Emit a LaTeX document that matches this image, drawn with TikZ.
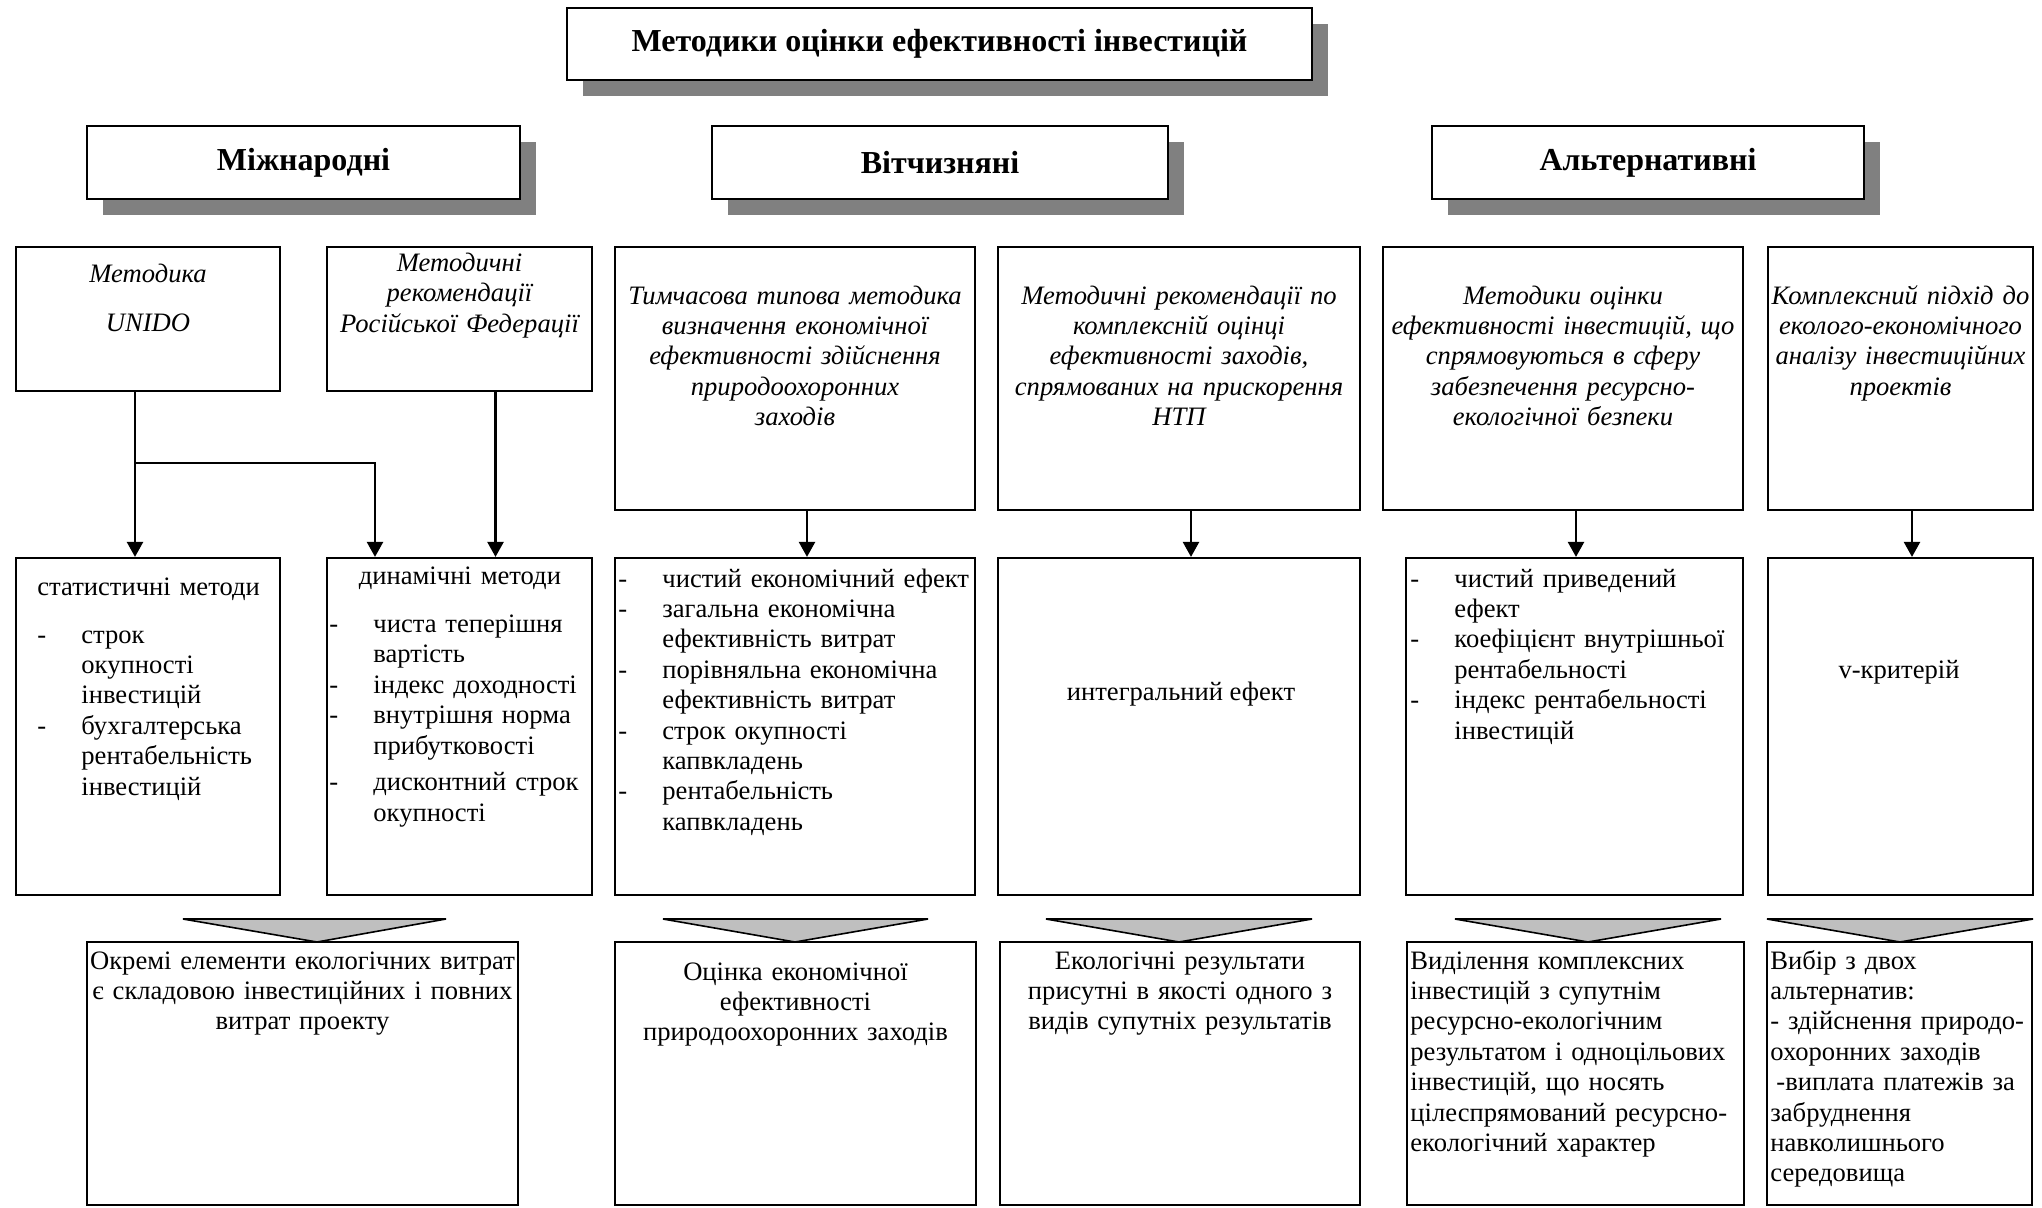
\documentclass[tikz,border=0pt]{standalone}
\usepackage{fontspec}
\setmainfont{Liberation Serif}
\usetikzlibrary{
  arrows.meta,%
  % boxes sized from two corners
  fit,%
  % grey offset shadow of the headings
  shadows
}
\tikzset{>={Triangle[width=8pt,length=7.5pt]}}
\definecolor{shadowgray}{gray}{0.5}
\definecolor{tipgray}{gray}{0.75}
\newlength{\dashw}\setlength{\dashw}{22pt}
\newcommand{\dl}{\makebox[\dashw][l]{-}}
\newcommand{\ind}{\hspace*{\dashw}}
\newcommand{\txtfont}{\fontsize{13.3}{15.2}\selectfont}
\newcommand{\headfont}{\fontsize{16}{19}\selectfont\bfseries}
\tikzset{
  box/.style={draw, line width=1.1pt, inner sep=0pt},
  headbox/.style={box, line width=1.4pt, fill=white,
    drop shadow={shadow xshift=8pt, shadow yshift=-8pt, fill=shadowgray, opacity=1}},
  headtxt/.style={font=\headfont, inner sep=0pt, anchor=center},
  ctxt/.style={font=\txtfont, align=center, inner sep=0pt, anchor=base, yshift=-1.5pt},
  itxt/.style={ctxt, font=\txtfont\itshape},
  ltxt/.style={font=\txtfont, align=left, inner sep=0pt, anchor=base west, text width=200pt, yshift=-1.5pt},
  conn/.style={line width=1.2pt},
  arr/.style={conn, ->},
  tip/.style={fill=tipgray, draw=black, line width=0.8pt, line join=miter},
}

\begin{document}
\begin{tikzpicture}[x=0.5pt, y=-0.5pt]
  \useasboundingbox (0,0) rectangle (2042,1207);
  % headings
  \node[headbox, fit={(567,8) (1312,80)}] (title) {};
  \node[headbox, fit={(87,126) (520,199)}] (intl) {};
  \node[headbox, fit={(712,126) (1168,199)}] (dom) {};
  \node[headbox, fit={(1432,126) (1864,199)}] (altern) {};
  \node[headtxt] (t-title) at (title.center) {Методики оцінки ефективності інвестицій};
  \node[headtxt] (t-intl) at (intl.center) {Міжнародні};
  \node[headtxt] (t-dom) at (dom.center) {Вітчизняні};
  \node[headtxt] (t-altern) at (altern.center) {Альтернативні};
  % methods
  \node[box, fit={(16,247) (280,391)}] (unido) {};
  \node[box, fit={(327,247) (592,391)}] (rf) {};
  \node[box, fit={(615,247) (975,510)}] (tymch) {};
  \node[box, fit={(998,247) (1360,510)}] (mrec) {};
  \node[box, fit={(1383,247) (1743,510)}] (alt1) {};
  \node[box, fit={(1768,247) (2033,510)}] (kompl) {};
  \node[itxt, text width=140pt] (t-unido) at (148,279.5) {Методика\\[9.5pt]UNIDO};
  \node[itxt, text width=140pt] (t-rf) at (459.5,268.5) {Методичні\\рекомендації\\Російської Федерації};
  \node[itxt, text width=190pt] (t-tymch) at (795,301) {Тимчасова типова методика\\визначення економічної\\ефективності здійснення\\природоохоронних\\заходів};
  \node[itxt, text width=190pt] (t-mrec) at (1179,301) {Методичні рекомендації по\\комплексній оцінці\\ефективності заходів,\\спрямованих на прискорення\\НТП};
  \node[itxt, text width=190pt] (t-alt1) at (1563,301) {Методики оцінки\\ефективності інвестицій, що\\спрямовуються в сферу\\забезпечення ресурсно-\\екологічної безпеки};
  \node[itxt, text width=140pt] (t-kompl) at (1900.5,301) {Комплексний підхід до\\еколого-економічного\\аналізу інвестиційних\\проектів};
  % indicators
  \node[box, fit={(16,558) (280,895)}] (stat) {};
  \node[box, fit={(327,558) (592,895)}] (dyn) {};
  \node[box, fit={(615,558) (975,895)}] (tymchl) {};
  \node[box, fit={(998,558) (1360,895)}] (integ) {};
  \node[box, fit={(1406,558) (1743,895)}] (npv) {};
  \node[box, fit={(1768,558) (2033,895)}] (vkr) {};
  \node[ltxt] (t-stat) at (37,592) {статистичні методи\\[8.8pt]\dl строк\\\ind окупності\\\ind інвестицій\\\dl бухгалтерська\\\ind рентабельність\\\ind інвестицій};
  \node[ltxt] (t-dyn) at (329,581) {\makebox[130.5pt]{динамічні методи}\\[9pt]\dl чиста теперішня\\\ind вартість\\\dl індекс доходності\\\dl внутрішня норма\\\ind прибутковості\\[3.25pt]\dl дисконтний строк\\\ind окупності};
  \node[ltxt] (t-tymchl) at (618,584) {\dl чистий економічний ефект\\\dl загальна економічна\\\ind ефективність витрат\\\dl порівняльна економічна\\\ind ефективність витрат\\\dl строк окупності\\\ind капвкладень\\\dl рентабельність\\\ind капвкладень};
  \node[ctxt] (t-integ) at (1181,697) {интегральний ефект};
  \node[ltxt] (t-npv) at (1410,584) {\dl чистий приведений\\\ind ефект\\\dl коефіцієнт внутрішньої\\\ind рентабельності\\\dl індекс рентабельності\\\ind інвестицій};
  \node[ctxt] (t-vkr) at (1899,675) {v-критерій};
  % arrows
  \coordinate (br) at (135,463);
  \draw[arr] ([xshift=-6.5pt]unido.south) -- ([xshift=-6.5pt]stat.north);
  \draw[arr] (br) -| ([xshift=-42.25pt]dyn.north);
  \draw[arr] ([xshift=18pt]rf.south) -- ([xshift=18pt]dyn.north);
  \draw[arr] ([xshift=6pt]tymch.south) -- ([xshift=6pt]tymchl.north);
  \draw[arr] ([xshift=6pt]mrec.south) -- ([xshift=6pt]integ.north);
  \draw[arr] ([xshift=6.5pt]alt1.south) -- ([xshift=0.75pt]npv.north);
  \draw[arr] ([xshift=5.75pt]kompl.south) -- ([xshift=5.75pt]vkr.north);
  % conclusions
  \node[box, fit={(87,942) (518,1205)}] (okr) {};
  \node[box, fit={(615,942) (976,1205)}] (otsin) {};
  \node[box, fit={(1000,942) (1360,1205)}] (ekol) {};
  \node[box, fit={(1407,942) (1744,1205)}] (vyd) {};
  \node[box, fit={(1767,942) (2032,1205)}] (vybir) {};
  \filldraw[tip] (183,919) -- (446,919) -- (317,942) -- cycle;
  \filldraw[tip] (663,919) -- (928,919) -- (795,942) -- cycle;
  \filldraw[tip] (1046,919) -- (1312,919) -- (1179,942) -- cycle;
  \filldraw[tip] (1455,919) -- (1721,919) -- (1588,942) -- cycle;
  \filldraw[tip] (1767,919) -- (2033,919) -- (1900,942) -- cycle;
  \node[ctxt, text width=230pt] (t-okr) at (302.5,966) {Окремі елементи екологічних витрат\\є складовою інвестиційних і повних\\витрат проекту};
  \node[ctxt, text width=190pt] (t-otsin) at (795.5,977) {Оцінка економічної\\ефективності\\природоохоронних заходів};
  \node[ctxt, text width=190pt] (t-ekol) at (1180,966) {Екологічні результати\\присутні в якості одного з\\видів супутніх результатів};
  \node[ltxt] (t-vyd) at (1410,966) {Виділення комплексних\\інвестицій з супутнім\\ресурсно-екологічним\\результатом і одноцільових\\інвестицій, що носять\\цілеспрямований ресурсно-\\екологічний характер};
  \node[ltxt] (t-vybir) at (1770,966) {Вибір з двох\\альтернатив:\\- здійснення природо-\\охоронних заходів\\\hspace*{3pt}-виплата платежів за\\забруднення\\навколишнього\\середовища};
\end{tikzpicture}
\end{document}
